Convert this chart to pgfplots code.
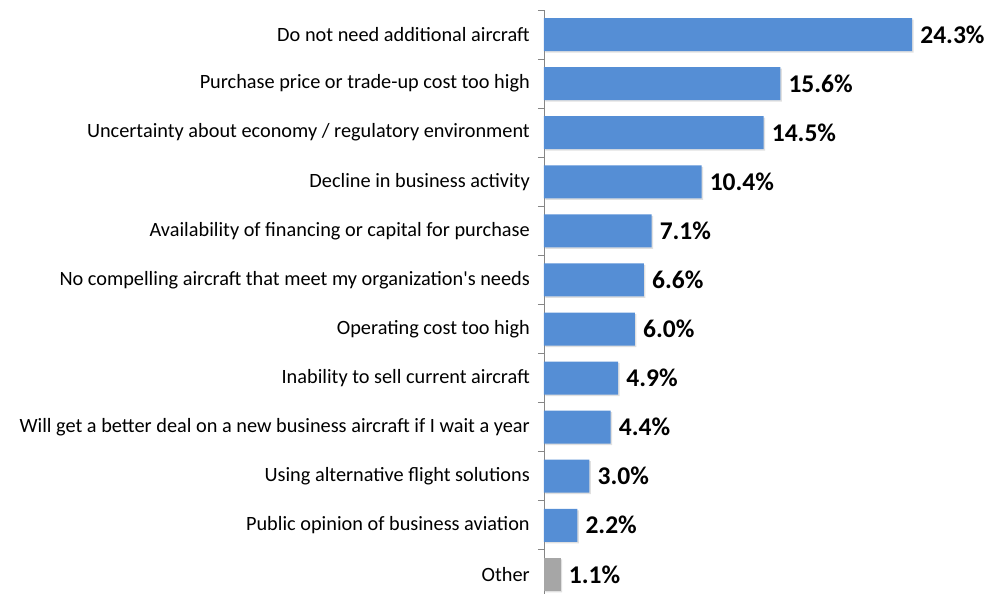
\documentclass[border=0pt]{standalone}
\usepackage{pgfplots}
\pgfplotsset{compat=1.18}
\usepackage{fontspec}
\setmainfont{Carlito}
\definecolor{barblue}{HTML}{558ED5}
\definecolor{bargray}{HTML}{A6A6A6}
\definecolor{axgray}{HTML}{868686}
\begin{document}
\begin{tikzpicture}
\begin{axis}[
  at={(0pt,0pt)}, anchor=north west,
  width=458pt, height=584pt, scale only axis,
  xmin=0, xmax=30.23,
  ymin=0.5, ymax=12.4, y dir=reverse,
  axis x line=none, axis y line*=left,
  y axis line style={draw=axgray, line width=0.8pt},
  ytick={1,...,12},
  minor ytick={0.5,1.5,...,11.5},
  major tick length=0pt, minor tick length=6pt, tick align=outside,
  every minor tick/.style={draw=axgray, line width=0.8pt},
  yticklabels={
    Do not need additional aircraft,
    Purchase price or trade-up cost too high,
    Uncertainty about economy / regulatory environment,
    Decline in business activity,
    Availability of financing or capital for purchase,
    No compelling aircraft that meet my organization\textquotesingle s needs,
    Operating cost too high,
    Inability to sell current aircraft,
    Will get a better deal on a new business aircraft if I wait a year,
    Using alternative flight solutions,
    Public opinion of business aviation,
    Other},
  yticklabel style={font=\fontsize{20.3}{22}\selectfont, inner sep=0pt, xshift=-14pt, text=black},
  xbar, bar width=33pt, bar shift=0pt,
  point meta=x,
  nodes near coords style={font=\bfseries\fontsize{25.5}{28}\selectfont, inner sep=0pt, xshift=8pt, text=black, anchor=west},
  clip=false,
]
\addplot[fill=black, fill opacity=0.12, draw=none, xshift=1.5pt, yshift=-1.5pt, forget plot] coordinates {
  (24.3,1) (15.6,2) (14.5,3) (10.4,4) (7.1,5) (6.6,6) (6.0,7) (4.9,8) (4.4,9) (3.0,10) (2.2,11) (1.1,12)};
\addplot[fill=barblue, draw=none,
  nodes near coords={\pgfmathprintnumber[fixed,fixed zerofill,precision=1,assume math mode=true]{\pgfplotspointmeta}\%}] coordinates {
  (24.3,1) (15.6,2) (14.5,3) (10.4,4) (7.1,5) (6.6,6) (6.0,7) (4.9,8) (4.4,9) (3.0,10) (2.2,11)};
\addplot[fill=bargray, draw=none,
  nodes near coords={\pgfmathprintnumber[fixed,fixed zerofill,precision=1,assume math mode=true]{\pgfplotspointmeta}\%}] coordinates {(1.1,12)};
\end{axis}
\pgfresetboundingbox
\path[use as bounding box] (-544pt,10pt) rectangle (458pt,-584pt);
\end{tikzpicture}
\end{document}
